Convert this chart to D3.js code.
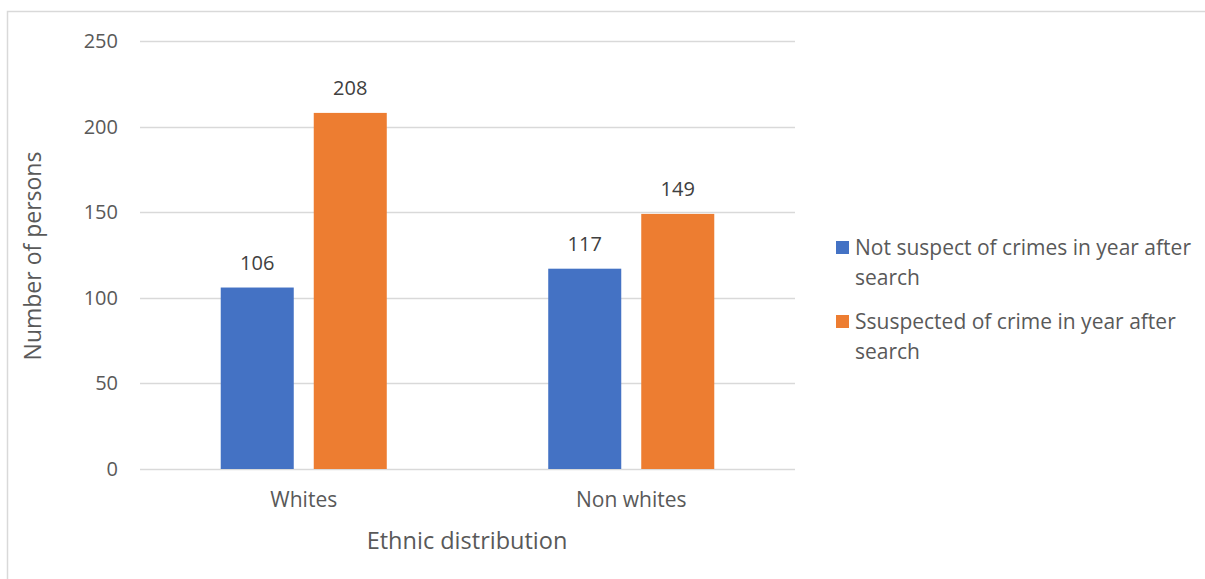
<!DOCTYPE html>
<html>
<head>
<meta charset="utf-8">
<script src="https://cdn.jsdelivr.net/npm/d3@7/dist/d3.min.js"></script>
<style>
  html, body { margin: 0; padding: 0; background: #fff; }
  svg { display: block; font-family: "Open Sans", "Liberation Sans", sans-serif; }
</style>
</head>
<body>
<svg id="chart" width="1205" height="579"></svg>
<script>
// Categories and series
const categories = ["Whites", "Non whites"];
const seriesNames = [
  "Not suspect of crimes in year after search",
  "Ssuspected of crime in year after search"
];
const notSuspect = [106, 117];
const suspected = [208, 149];
const yTicks = [0, 50, 100, 150, 200, 250];
const colors = ["#4472c4", "#ed7d31"];

const svg = d3.select("#chart");

// outer chart frame
svg.append("rect")
  .attr("x", 7.5).attr("y", 11.5)
  .attr("width", 1205).attr("height", 600)
  .attr("fill", "#fff").attr("stroke", "#d9d9d9").attr("stroke-width", 1.5);

const plot = { left: 140, right: 795, top: 41, bottom: 469 };

const x0 = d3.scaleBand().domain(categories)
  .range([plot.left, plot.right]).paddingInner(0.493).paddingOuter(0.2465);
const x1 = d3.scaleBand().domain([0, 1])
  .range([0, x0.bandwidth()]).paddingInner(0.215);
const y = d3.scaleLinear().domain([0, 250]).range([plot.bottom, plot.top]);

// gridlines
svg.append("g").selectAll("line").data(yTicks).join("line")
  .attr("x1", plot.left).attr("x2", plot.right)
  .attr("y1", d => Math.round(y(d)) + 0.5).attr("y2", d => Math.round(y(d)) + 0.5)
  .attr("stroke", "#d9d9d9").attr("stroke-width", 1.3);

// y axis labels
const yAxis = d3.axisLeft(y).tickValues(yTicks).tickSize(0).tickPadding(0);
const gy = svg.append("g").attr("transform", `translate(118,0)`).call(yAxis);
gy.select(".domain").remove();
gy.selectAll("text").attr("fill", "#595959").style("font-size", "20px")
  .style("font-family", "'Open Sans', sans-serif");

// x axis labels
const xAxis = d3.axisBottom(x0).tickSize(0).tickPadding(0);
const gx = svg.append("g").attr("transform", `translate(0,492)`).call(xAxis);
gx.select(".domain").remove();
gx.selectAll("text").attr("fill", "#595959").style("font-size", "21px")
  .style("font-family", "'Open Sans', sans-serif");

// bars
const series = [notSuspect, suspected];
const rows = [];
categories.forEach((c, i) => series.forEach((s, j) => rows.push({ c, j, v: s[i] })));

svg.append("g").selectAll("rect").data(rows).join("rect")
  .attr("x", d => x0(d.c) + x1(d.j))
  .attr("width", x1.bandwidth())
  .attr("y", d => y(d.v))
  .attr("height", d => y(0) - y(d.v))
  .attr("fill", d => colors[d.j]);

// value labels
svg.append("g").selectAll("text").data(rows).join("text")
  .attr("x", d => x0(d.c) + x1(d.j) + x1.bandwidth() / 2)
  .attr("y", d => y(d.v) - 18)
  .attr("text-anchor", "middle")
  .attr("fill", "#404040").style("font-size", "20px")
  .text(d => d.v);

// axis titles
svg.append("text")
  .attr("x", 467).attr("y", 549)
  .attr("text-anchor", "middle").attr("fill", "#595959")
  .style("font-size", "23.5px").text("Ethnic distribution");

svg.append("text")
  .attr("transform", "translate(41,256) rotate(-90)")
  .attr("text-anchor", "middle").attr("fill", "#595959")
  .style("font-size", "23px").text("Number of persons");

// legend
const legendLines = [
  ["Not suspect of crimes in year after", "search"],
  ["Ssuspected of crime in year after", "search"]
];
const legendTop = [241, 315];
const lg = svg.append("g");
seriesNames.forEach((name, i) => {
  lg.append("rect").attr("x", 836).attr("y", legendTop[i])
    .attr("width", 13).attr("height", 13).attr("fill", colors[i]);
  legendLines[i].forEach((ln, k) => {
    lg.append("text").attr("x", 855).attr("y", legendTop[i] + 14 + k * 30)
      .attr("fill", "#595959").style("font-size", "21px").text(ln);
  });
});
</script>
</body>
</html>
